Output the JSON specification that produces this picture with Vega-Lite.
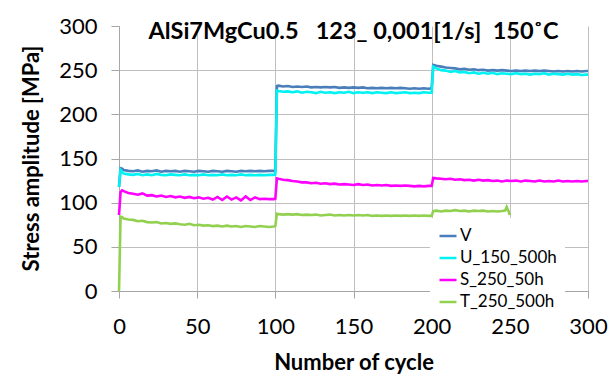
{
  "$schema": "https://vega.github.io/schema/vega-lite/v6.json",
  "width": 469,
  "height": 265,
  "autosize": "none",
  "padding": {"left": 119, "top": 26, "right": 23, "bottom": 86},
  "background": "white",
  "title": {
    "text": "AlSi7MgCu0.5\u00a0\u00a0\u00a0123_\u00a00,001[1/s]\u00a0\u00a0150˚C",
    "font": "Lato", "fontSize": 23.5, "fontWeight": "bold", "color": "black",
    "anchor": "middle", "baseline": "alphabetic", "offset": -47, "dx": 0
  },
  "config": {"view": {"stroke": null}},
  "data": {"values": [
    {"cycle": 0, "V": 118, "U_150_500h": 118, "S_250_50h": 86, "T_250_500h": 0},
    {"cycle": 1, "V": 139, "U_150_500h": 137, "S_250_50h": 112, "T_250_500h": 84},
    {"cycle": 2, "V": 138.5, "U_150_500h": 135, "S_250_50h": 114, "T_250_500h": 83.5},
    {"cycle": 3, "V": 137, "U_150_500h": 133, "S_250_50h": 113, "T_250_500h": 82},
    {"cycle": 6, "V": 136, "U_150_500h": 132, "S_250_50h": 111, "T_250_500h": 81},
    {"cycle": 9, "V": 135.5, "U_150_500h": 131.5, "S_250_50h": 110, "T_250_500h": 80.5},
    {"cycle": 12, "V": 136.5, "U_150_500h": 132.5, "S_250_50h": 109, "T_250_500h": 79},
    {"cycle": 15, "V": 135, "U_150_500h": 131, "S_250_50h": 110.5, "T_250_500h": 79.5},
    {"cycle": 18, "V": 136, "U_150_500h": 132, "S_250_50h": 108, "T_250_500h": 78},
    {"cycle": 21, "V": 135.5, "U_150_500h": 131, "S_250_50h": 108.5, "T_250_500h": 77.5},
    {"cycle": 24, "V": 136.5, "U_150_500h": 132.5, "S_250_50h": 107, "T_250_500h": 78},
    {"cycle": 27, "V": 135, "U_150_500h": 131.5, "S_250_50h": 108, "T_250_500h": 76.5},
    {"cycle": 30, "V": 136, "U_150_500h": 131, "S_250_50h": 106.5, "T_250_500h": 77},
    {"cycle": 33, "V": 135.5, "U_150_500h": 132, "S_250_50h": 107.5, "T_250_500h": 76},
    {"cycle": 36, "V": 136, "U_150_500h": 131.5, "S_250_50h": 106, "T_250_500h": 76.5},
    {"cycle": 39, "V": 135, "U_150_500h": 131, "S_250_50h": 107, "T_250_500h": 75.5},
    {"cycle": 42, "V": 136, "U_150_500h": 132, "S_250_50h": 105.5, "T_250_500h": 75},
    {"cycle": 45, "V": 135.5, "U_150_500h": 131, "S_250_50h": 106.5, "T_250_500h": 76},
    {"cycle": 48, "V": 135, "U_150_500h": 131.5, "S_250_50h": 105, "T_250_500h": 74.5},
    {"cycle": 51, "V": 136, "U_150_500h": 131, "S_250_50h": 106, "T_250_500h": 75},
    {"cycle": 54, "V": 135.5, "U_150_500h": 132, "S_250_50h": 104.5, "T_250_500h": 74},
    {"cycle": 57, "V": 135, "U_150_500h": 131, "S_250_50h": 105.5, "T_250_500h": 74.5},
    {"cycle": 60, "V": 136, "U_150_500h": 131.5, "S_250_50h": 103.5, "T_250_500h": 73.5},
    {"cycle": 63, "V": 135.5, "U_150_500h": 131, "S_250_50h": 106.5, "T_250_500h": 74},
    {"cycle": 66, "V": 135, "U_150_500h": 132, "S_250_50h": 103, "T_250_500h": 73},
    {"cycle": 69, "V": 136, "U_150_500h": 131, "S_250_50h": 107, "T_250_500h": 74},
    {"cycle": 72, "V": 135.5, "U_150_500h": 131.5, "S_250_50h": 103.5, "T_250_500h": 73},
    {"cycle": 75, "V": 135, "U_150_500h": 131, "S_250_50h": 106, "T_250_500h": 73.5},
    {"cycle": 78, "V": 136, "U_150_500h": 132, "S_250_50h": 102.5, "T_250_500h": 72.5},
    {"cycle": 81, "V": 135.5, "U_150_500h": 131, "S_250_50h": 107, "T_250_500h": 73.5},
    {"cycle": 84, "V": 136, "U_150_500h": 131.5, "S_250_50h": 103, "T_250_500h": 73},
    {"cycle": 87, "V": 135.5, "U_150_500h": 131, "S_250_50h": 106, "T_250_500h": 72.5},
    {"cycle": 90, "V": 136, "U_150_500h": 131.5, "S_250_50h": 104, "T_250_500h": 73.5},
    {"cycle": 93, "V": 135.5, "U_150_500h": 131, "S_250_50h": 104.5, "T_250_500h": 73},
    {"cycle": 96, "V": 136, "U_150_500h": 131.5, "S_250_50h": 104, "T_250_500h": 72.5},
    {"cycle": 99, "V": 136, "U_150_500h": 131.5, "S_250_50h": 104, "T_250_500h": 73},
    {"cycle": 100, "V": 136.5, "U_150_500h": 132, "S_250_50h": 104.5, "T_250_500h": 73.5},
    {"cycle": 101, "V": 232, "U_150_500h": 227, "S_250_50h": 127.5, "T_250_500h": 87.5},
    {"cycle": 102, "V": 232.5, "U_150_500h": 226.5, "S_250_50h": 127, "T_250_500h": 87},
    {"cycle": 105, "V": 231.5, "U_150_500h": 225.5, "S_250_50h": 126, "T_250_500h": 86.5},
    {"cycle": 108, "V": 232, "U_150_500h": 226, "S_250_50h": 125.5, "T_250_500h": 87},
    {"cycle": 111, "V": 231, "U_150_500h": 225, "S_250_50h": 124.5, "T_250_500h": 86.5},
    {"cycle": 114, "V": 231.5, "U_150_500h": 226, "S_250_50h": 124, "T_250_500h": 87},
    {"cycle": 117, "V": 231, "U_150_500h": 224.5, "S_250_50h": 123, "T_250_500h": 86},
    {"cycle": 120, "V": 231.5, "U_150_500h": 225.5, "S_250_50h": 123, "T_250_500h": 86.5},
    {"cycle": 123, "V": 230.5, "U_150_500h": 225, "S_250_50h": 122, "T_250_500h": 86},
    {"cycle": 126, "V": 231, "U_150_500h": 224, "S_250_50h": 122.5, "T_250_500h": 86.5},
    {"cycle": 129, "V": 230.5, "U_150_500h": 225.5, "S_250_50h": 121.5, "T_250_500h": 85.5},
    {"cycle": 132, "V": 231, "U_150_500h": 224.5, "S_250_50h": 122, "T_250_500h": 86},
    {"cycle": 135, "V": 230.5, "U_150_500h": 225, "S_250_50h": 121, "T_250_500h": 86.5},
    {"cycle": 138, "V": 231, "U_150_500h": 224, "S_250_50h": 121.5, "T_250_500h": 85.5},
    {"cycle": 141, "V": 230, "U_150_500h": 225, "S_250_50h": 120.5, "T_250_500h": 86},
    {"cycle": 144, "V": 230.5, "U_150_500h": 224.5, "S_250_50h": 121, "T_250_500h": 85.5},
    {"cycle": 147, "V": 230, "U_150_500h": 225.5, "S_250_50h": 120.5, "T_250_500h": 86},
    {"cycle": 150, "V": 230.5, "U_150_500h": 224, "S_250_50h": 120, "T_250_500h": 85.5},
    {"cycle": 153, "V": 230, "U_150_500h": 225, "S_250_50h": 121, "T_250_500h": 86},
    {"cycle": 156, "V": 230.5, "U_150_500h": 224.5, "S_250_50h": 120, "T_250_500h": 85.5},
    {"cycle": 159, "V": 229.5, "U_150_500h": 225, "S_250_50h": 120.5, "T_250_500h": 86},
    {"cycle": 162, "V": 230, "U_150_500h": 224, "S_250_50h": 119.5, "T_250_500h": 85},
    {"cycle": 165, "V": 229.5, "U_150_500h": 225, "S_250_50h": 120, "T_250_500h": 85.5},
    {"cycle": 168, "V": 230, "U_150_500h": 224.5, "S_250_50h": 119.5, "T_250_500h": 85},
    {"cycle": 171, "V": 229.5, "U_150_500h": 224, "S_250_50h": 120, "T_250_500h": 85.5},
    {"cycle": 174, "V": 230, "U_150_500h": 225, "S_250_50h": 119, "T_250_500h": 85},
    {"cycle": 177, "V": 229.5, "U_150_500h": 224, "S_250_50h": 119.5, "T_250_500h": 85.5},
    {"cycle": 180, "V": 230, "U_150_500h": 224.5, "S_250_50h": 119, "T_250_500h": 85},
    {"cycle": 183, "V": 229.5, "U_150_500h": 225, "S_250_50h": 119.5, "T_250_500h": 85.5},
    {"cycle": 186, "V": 229, "U_150_500h": 224, "S_250_50h": 119, "T_250_500h": 85},
    {"cycle": 189, "V": 229.5, "U_150_500h": 224.5, "S_250_50h": 118.5, "T_250_500h": 85.5},
    {"cycle": 192, "V": 229, "U_150_500h": 224, "S_250_50h": 119, "T_250_500h": 85},
    {"cycle": 195, "V": 229.5, "U_150_500h": 225, "S_250_50h": 118.5, "T_250_500h": 85.5},
    {"cycle": 198, "V": 229, "U_150_500h": 224.5, "S_250_50h": 119, "T_250_500h": 85},
    {"cycle": 200, "V": 229.5, "U_150_500h": 224.5, "S_250_50h": 119, "T_250_500h": 85},
    {"cycle": 201, "V": 256, "U_150_500h": 254, "S_250_50h": 128, "T_250_500h": 90.5},
    {"cycle": 203, "V": 255, "U_150_500h": 252, "S_250_50h": 127.5, "T_250_500h": 91},
    {"cycle": 206, "V": 254, "U_150_500h": 250, "S_250_50h": 127, "T_250_500h": 90},
    {"cycle": 209, "V": 253, "U_150_500h": 249.5, "S_250_50h": 126.5, "T_250_500h": 91},
    {"cycle": 212, "V": 252.5, "U_150_500h": 248, "S_250_50h": 127, "T_250_500h": 90.5},
    {"cycle": 215, "V": 252, "U_150_500h": 249, "S_250_50h": 126, "T_250_500h": 91.5},
    {"cycle": 218, "V": 251, "U_150_500h": 247.5, "S_250_50h": 126.5, "T_250_500h": 90.5},
    {"cycle": 221, "V": 251.5, "U_150_500h": 248, "S_250_50h": 125.5, "T_250_500h": 91},
    {"cycle": 224, "V": 250.5, "U_150_500h": 246.5, "S_250_50h": 126, "T_250_500h": 90},
    {"cycle": 227, "V": 251, "U_150_500h": 247.5, "S_250_50h": 125, "T_250_500h": 91},
    {"cycle": 230, "V": 250, "U_150_500h": 246, "S_250_50h": 126, "T_250_500h": 90.5},
    {"cycle": 233, "V": 250.5, "U_150_500h": 247, "S_250_50h": 125, "T_250_500h": 91},
    {"cycle": 236, "V": 249.5, "U_150_500h": 246, "S_250_50h": 125.5, "T_250_500h": 90},
    {"cycle": 239, "V": 250, "U_150_500h": 247, "S_250_50h": 124.5, "T_250_500h": 90.5},
    {"cycle": 242, "V": 249.5, "U_150_500h": 245.5, "S_250_50h": 125, "T_250_500h": 90},
    {"cycle": 245, "V": 250, "U_150_500h": 246.5, "S_250_50h": 124, "T_250_500h": 90.5},
    {"cycle": 247, "T_250_500h": 91},
    {"cycle": 248, "V": 249.5, "U_150_500h": 246, "S_250_50h": 125, "T_250_500h": 95},
    {"cycle": 249, "T_250_500h": 91},
    {"cycle": 250, "T_250_500h": 86},
    {"cycle": 251, "V": 249, "U_150_500h": 245.5, "S_250_50h": 124.5},
    {"cycle": 254, "V": 249.5, "U_150_500h": 246.5, "S_250_50h": 125},
    {"cycle": 257, "V": 249, "U_150_500h": 245.5, "S_250_50h": 124},
    {"cycle": 260, "V": 249.5, "U_150_500h": 246, "S_250_50h": 125},
    {"cycle": 263, "V": 249, "U_150_500h": 245, "S_250_50h": 124.5},
    {"cycle": 266, "V": 249.5, "U_150_500h": 246, "S_250_50h": 124},
    {"cycle": 269, "V": 249, "U_150_500h": 245.5, "S_250_50h": 125},
    {"cycle": 272, "V": 249.5, "U_150_500h": 246.5, "S_250_50h": 124},
    {"cycle": 275, "V": 249, "U_150_500h": 245, "S_250_50h": 124.5},
    {"cycle": 278, "V": 248.5, "U_150_500h": 246, "S_250_50h": 124},
    {"cycle": 281, "V": 249, "U_150_500h": 245.5, "S_250_50h": 125},
    {"cycle": 284, "V": 248.5, "U_150_500h": 245, "S_250_50h": 124},
    {"cycle": 287, "V": 249, "U_150_500h": 246, "S_250_50h": 124.5},
    {"cycle": 290, "V": 248.5, "U_150_500h": 245, "S_250_50h": 124},
    {"cycle": 293, "V": 249, "U_150_500h": 245.5, "S_250_50h": 124.5},
    {"cycle": 296, "V": 248.5, "U_150_500h": 244.5, "S_250_50h": 124},
    {"cycle": 299, "V": 249, "U_150_500h": 245, "S_250_50h": 124.5},
    {"cycle": 300, "V": 249, "U_150_500h": 245, "S_250_50h": 124.5}
  ]},
  "transform": [
    {"fold": ["V", "U_150_500h", "S_250_50h", "T_250_500h"], "as": ["series", "stress"]},
    {"filter": "isValid(datum.stress)"}
  ],
  "mark": {"type": "line", "strokeWidth": 2.6},
  "encoding": {
    "x": {
      "field": "cycle", "type": "quantitative",
      "scale": {"domain": [0, 300], "nice": false},
      "axis": {
        "values": [0, 50, 100, 150, 200, 250, 300],
        "title": "Number of cycle",
        "titleFont": "Lato", "titleFontSize": 22, "titleFontWeight": "bold", "titleColor": "black",
        "titleY": 71, "titleBaseline": "middle",
        "labelFont": "Lato", "labelFontSize": 22, "labelColor": "black", "labelPadding": 18,
        "labelFlush": false,
        "tickSize": 7, "tickColor": "#A6A6A6", "domainColor": "#A6A6A6", "gridColor": "#BFBFBF"
      }
    },
    "y": {
      "field": "stress", "type": "quantitative",
      "scale": {"domain": [0, 300], "nice": false},
      "axis": {
        "values": [0, 50, 100, 150, 200, 250, 300],
        "title": "Stress amplitude [MPa]",
        "titleFont": "Lato", "titleFontSize": 22, "titleFontWeight": "bold", "titleColor": "black",
        "titleX": -88, "titleY": 132, "titleAngle": -90, "titleAlign": "center", "titleBaseline": "middle",
        "labelFont": "Lato", "labelFontSize": 22, "labelColor": "black", "labelPadding": 14,
        "labelFlush": false,
        "tickSize": 8, "tickColor": "#A6A6A6", "domainColor": "#A6A6A6", "gridColor": "#BFBFBF",
        "gridOpacity": {"condition": {"test": "datum.value === 300", "value": 0}, "value": 1}
      }
    },
    "color": {
      "field": "series", "type": "nominal",
      "scale": {"domain": ["V", "U_150_500h", "S_250_50h", "T_250_500h"], "range": ["#4A7EBB", "#00F2F2", "#FF00FF", "#92D050"]},
      "legend": {
        "orient": "none", "legendX": 311, "legendY": 192, "title": null,
        "fillColor": "white", "padding": 8,
        "symbolType": "stroke", "symbolSize": 289, "symbolStrokeWidth": 2.5,
        "labelFont": "Lato", "labelFontSize": 17, "labelColor": "black", "labelOffset": 2,
        "rowPadding": 4
      }
    }
  }
}
